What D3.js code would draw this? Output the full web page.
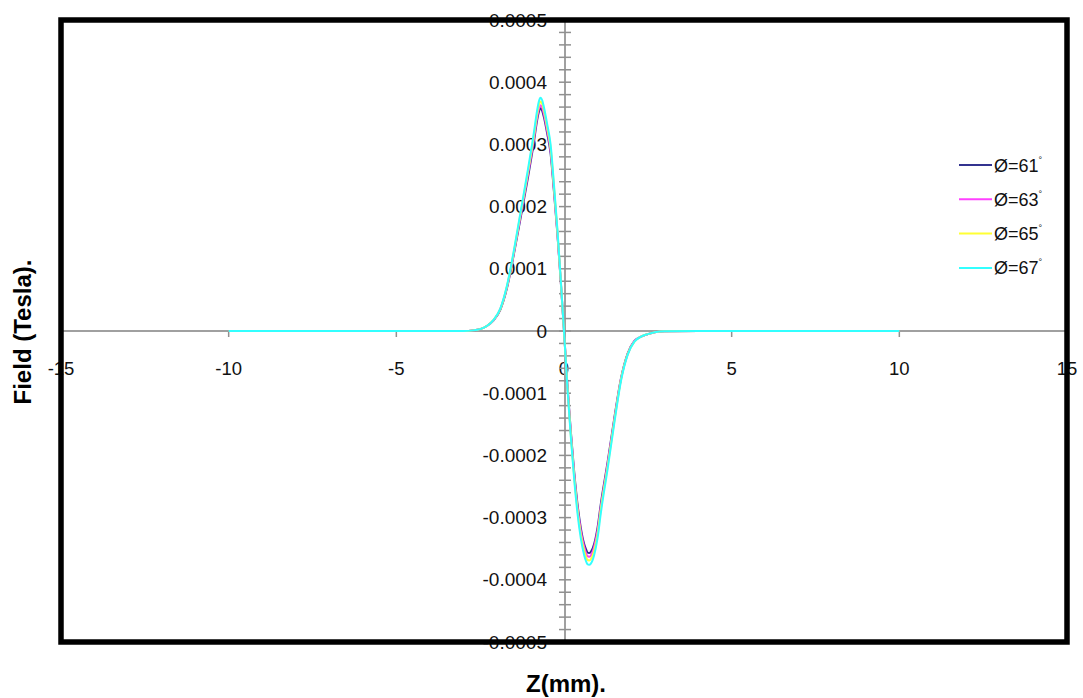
<!DOCTYPE html>
<html><head><meta charset="utf-8">
<script src="https://cdn.jsdelivr.net/npm/d3@7"></script>
<style>body{margin:0;background:#fff}svg{display:block}text{font-family:"Liberation Sans",Arial,sans-serif}</style>
</head><body>
<svg id="c" width="1083" height="698"></svg>
<script>
const zValues = [-10,-8,-6,-4,-3,-2.7,-2.5,-2.3,-2.1,-1.9,-1.7,-1.5,-1.3,-1.1,-0.9,-0.8,-0.75,-0.7,-0.65,-0.6,-0.5,-0.4,-0.3,-0.2,-0.1,0,0.1,0.2,0.3,0.4,0.5,0.6,0.65,0.7,0.75,0.8,0.9,1.0,1.1,1.3,1.5,1.7,1.9,2.1,2.3,2.5,2.7,3,4,6,8,10];
const field61 = [0,0,0,0,0,1e-6,3e-6,8e-6,17e-6,34e-6,69e-6,122e-6,180e-6,239e-6,303e-6,339e-6,352e-6,358e-6,354e-6,344e-6,317e-6,285e-6,224e-6,158e-6,82e-6,0,-85e-6,-159e-6,-224e-6,-277e-6,-316e-6,-342e-6,-350e-6,-356e-6,-357e-6,-355e-6,-342e-6,-316e-6,-277e-6,-211e-6,-140e-6,-76e-6,-36e-6,-16e-6,-9e-6,-5e-6,-2e-6,-0.5e-6,0,0,0,0];
const field63 = [0,0,0,0,0,1e-6,3e-6,8e-6,17e-6,35e-6,71e-6,124e-6,184e-6,244e-6,308e-6,344e-6,357e-6,363e-6,359e-6,349e-6,322e-6,290e-6,228e-6,160e-6,83e-6,0,-87e-6,-162e-6,-228e-6,-282e-6,-321e-6,-347e-6,-356e-6,-362e-6,-363e-6,-361e-6,-347e-6,-321e-6,-282e-6,-214e-6,-143e-6,-77e-6,-37e-6,-16e-6,-9e-6,-5e-6,-2e-6,-0.5e-6,0,0,0,0];
const field65 = [0,0,0,0,0,1e-6,3e-6,8e-6,18e-6,35e-6,72e-6,126e-6,187e-6,248e-6,313e-6,349e-6,363e-6,369e-6,365e-6,355e-6,327e-6,295e-6,232e-6,163e-6,84e-6,0,-88e-6,-165e-6,-232e-6,-286e-6,-327e-6,-353e-6,-362e-6,-368e-6,-369e-6,-367e-6,-353e-6,-327e-6,-286e-6,-218e-6,-145e-6,-78e-6,-37e-6,-17e-6,-9e-6,-5e-6,-2e-6,-0.5e-6,0,0,0,0];
const field67 = [0,0,0,0,0,1e-6,3e-6,8e-6,18e-6,36e-6,73e-6,128e-6,190e-6,252e-6,318e-6,355e-6,369e-6,375e-6,371e-6,360e-6,332e-6,300e-6,236e-6,166e-6,86e-6,0,-90e-6,-168e-6,-236e-6,-292e-6,-333e-6,-360e-6,-369e-6,-375e-6,-376e-6,-374e-6,-360e-6,-333e-6,-292e-6,-222e-6,-148e-6,-80e-6,-38e-6,-17e-6,-9e-6,-5e-6,-2e-6,-0.5e-6,0,0,0,0];
const seriesNames = ["61","63","65","67"];
const seriesColors = ["#33338f","#ff40ff","#ffff33","#33ffff"];
const xTicks = [-15,-10,-5,0,5,10,15];
const xTickLabels = ["-15","-10","-5","0","5","10","15"];
const yTicks = [0.0005,0.0004,0.0003,0.0002,0.0001,0,-0.0001,-0.0002,-0.0003,-0.0004,-0.0005];
const yTickLabels = ["0.0005","0.0004","0.0003","0.0002","0.0001","0","-0.0001","-0.0002","-0.0003","-0.0004","-0.0005"];
const allSeries = [field61, field63, field65, field67];

const svg = d3.select("#c");
const L=61, R=1067, T=20, B=642;
const x = d3.scaleLinear().domain([-15,15]).range([L,R]);
const y = d3.scaleLinear().domain([-0.0005,0.0005]).range([B,T]);

// x axis line at y=0
svg.append("line").attr("x1",L).attr("x2",R).attr("y1",y(0)).attr("y2",y(0))
  .attr("stroke","#a0a0a0").attr("stroke-width",2);
svg.selectAll(".xt").data(xTicks.filter(d=>d!==0)).enter().append("line")
  .attr("x1",d=>x(d)).attr("x2",d=>x(d)).attr("y1",y(0)).attr("y2",y(0)+6)
  .attr("stroke","#909090").attr("stroke-width",1.5);
svg.selectAll(".xl").data(xTicks).enter().append("text")
  .attr("x",(d,i)=>x(d)).attr("y",y(0)+44).attr("text-anchor","middle")
  .attr("font-size",18.5).attr("fill","#111")
  .text((d,i)=>xTickLabels[i]);

// y axis line at x=0
const x0 = x(0)+1;
svg.append("line").attr("x1",x0).attr("x2",x0).attr("y1",T).attr("y2",B)
  .attr("stroke","#a0a0a0").attr("stroke-width",2);
const minor = d3.range(-25,26).map(k=>k*0.00002);
svg.selectAll(".ym").data(minor).enter().append("line")
  .attr("x1",x0-6).attr("x2",x0+6).attr("y1",d=>y(d)).attr("y2",d=>y(d))
  .attr("stroke","#909090").attr("stroke-width",1.5);
svg.selectAll(".yl").data(yTicks).enter().append("text")
  .attr("x",547).attr("y",d=>y(d)+6.5).attr("text-anchor","end")
  .attr("font-size",19).attr("fill","#111")
  .text((d,i)=>yTickLabels[i]);

// curves
const line = d3.line().x((d,i)=>x(zValues[i])).y(d=>y(d)).curve(d3.curveMonotoneX);
allSeries.forEach((s,k)=>{
  svg.append("path").datum(s).attr("d",line).attr("fill","none")
    .attr("stroke",seriesColors[k]).attr("stroke-width",2);
});

// border
svg.append("rect").attr("x",L).attr("y",T).attr("width",R-L).attr("height",B-T)
  .attr("fill","none").attr("stroke","#000").attr("stroke-width",5.5);

// legend
seriesNames.forEach((n,k)=>{
  const ly = 165 + k*34.3;
  svg.append("line").attr("x1",959).attr("x2",992).attr("y1",ly).attr("y2",ly)
    .attr("stroke",seriesColors[k]).attr("stroke-width",2);
  const t = svg.append("text").attr("x",994).attr("y",ly+6.5).attr("font-size",18).attr("fill","#111");
  t.append("tspan").text("Ø=" + n);
  t.append("tspan").attr("font-size",9).attr("dy",-9).text("°");
});

// axis titles
svg.append("text").attr("x",566).attr("y",692).attr("text-anchor","middle")
  .attr("font-size",24).attr("font-weight","bold").attr("fill","#000").text("Z(mm).");
svg.append("text").attr("transform","translate(31,332) rotate(-90)").attr("text-anchor","middle")
  .attr("font-size",24).attr("font-weight","bold").attr("fill","#000").text("Field (Tesla).");
</script>
</body></html>
